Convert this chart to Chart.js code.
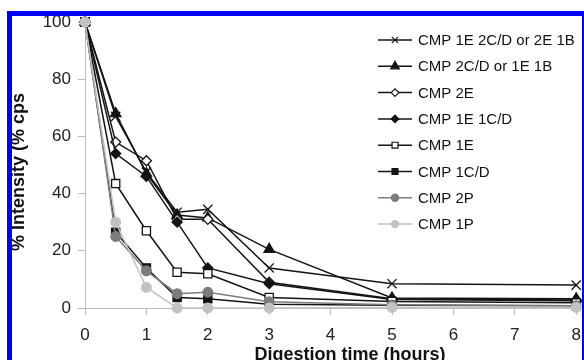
<!DOCTYPE html>
<html><head><meta charset="utf-8">
<script src="https://cdn.jsdelivr.net/npm/chart.js@4"></script>
<style>
html,body{margin:0;padding:0;background:#fff;overflow:hidden;width:584px;height:360px;}
#wrap{position:relative;width:584px;height:360px;overflow:hidden;background:#fff;}
canvas{position:absolute;left:0;top:0;}
#frame{position:absolute;left:7px;top:11px;width:577px;height:400px;box-sizing:border-box;border-left:5px solid #0000ff;border-top:5px solid #0000ff;border-right:2px solid #0000ff;pointer-events:none;}
</style></head><body>
<div id="wrap"><canvas id="c" width="584" height="380"></canvas><div id="frame"></div></div>
<script>
// ---- data ----
const times = [0, 0.5, 1, 1.5, 2, 3, 5, 8];
const seriesNames = ['CMP 1E 2C/D or 2E 1B', 'CMP 2C/D or 1E 1B', 'CMP 2E', 'CMP 1E 1C/D', 'CMP 1E', 'CMP 1C/D', 'CMP 2P', 'CMP 1P'];
const cmp1E2CD = [100, 67, 47.5, 33.5, 34.5, 14, 8.5, 8];
const cmp2CD   = [100, 68, 47, 32.5, 31.5, 20.5, 3.5, 3.2];
const cmp2E    = [100, 58, 51.5, 31, 31, 9, 3.2, 2.8];
const cmp1E1CD = [100, 54, 46, 30, 14, 8.5, 3, 2.5];
const cmp1E    = [100, 43.5, 27, 12.5, 12, 3.7, 2.3, 1.8];
const cmp1CD   = [100, 26.5, 14, 3.7, 3.2, 1.3, 1, 0.8];
const cmp2P    = [100, 25, 13, 5, 5.5, 2.2, 1.1, 0.8];
const cmp1P    = [100, 30, 7.2, 0, 0, 0, 0.2, 0.2];
const xTitle = 'Digestion time (hours)';
const yTitle = '% Intensity (% cps';
const xTickMin = 0, xTickMax = 8, xTickStep = 1;
const yTickMin = 0, yTickMax = 100, yTickStep = 20;

const FONT = '"Liberation Sans", Arial, Helvetica, sans-serif';
const BLACK = '#141414', GRAY = '#7c7c7c', LIGHT = '#c2c2c2';

const values = [cmp1E2CD, cmp2CD, cmp2E, cmp1E1CD, cmp1E, cmp1CD, cmp2P, cmp1P];
const styles = [
  {ps:'crossRot', r:6.5, fill:BLACK, stroke:BLACK, lr:4.5},
  {ps:'triangle', r:6, fill:BLACK, stroke:BLACK, lr:5},
  {ps:'rectRot', r:5, fill:'#fff', stroke:BLACK, lr:3.8},
  {ps:'rectRot', r:5, fill:BLACK, stroke:BLACK, lr:3.8},
  {ps:'rect', r:5.8, fill:'#fff', stroke:BLACK, lr:4.2},
  {ps:'rect', r:5.8, fill:BLACK, stroke:BLACK, lr:4.2},
  {ps:'circle', r:4.8, fill:GRAY, stroke:GRAY, lr:3.6},
  {ps:'circle', r:4.8, fill:LIGHT, stroke:LIGHT, lr:3.6}
];

const datasets = seriesNames.map((name, i) => ({
  label: name,
  data: times.map((t, j) => ({x: t, y: values[i][j]})),
  borderColor: styles[i].stroke,
  backgroundColor: styles[i].fill,
  borderWidth: 1.5,
  pointStyle: styles[i].ps,
  pointRadius: styles[i].r,
  pointBorderWidth: 1.3,
  pointBorderColor: styles[i].stroke,
  pointBackgroundColor: styles[i].fill,
  tension: 0,
  clip: false,
  order: seriesNames.length - 1 - i
}));

function drawMarker(ctx, ps, x, y, r, fill, stroke) {
  ctx.save();
  ctx.fillStyle = fill; ctx.strokeStyle = stroke; ctx.lineWidth = 1.2;
  if (Chart.helpers && Chart.helpers.drawPoint) {
    Chart.helpers.drawPoint(ctx, {pointStyle: ps, radius: r, rotation: 0, borderWidth: 1.2}, x, y);
  }
  ctx.restore();
}

const overlay = {
  id: 'overlay',
  afterDraw(chart) {
    const ctx = chart.ctx;
    ctx.save();
    // legend
    const rowY0 = 40, rowStep = 26.3;
    ctx.font = '15px ' + FONT;
    ctx.textAlign = 'left'; ctx.textBaseline = 'middle';
    seriesNames.forEach((name, i) => {
      const y = rowY0 + i * rowStep;
      const st = styles[i];
      ctx.strokeStyle = st.stroke; ctx.lineWidth = 1.5;
      ctx.beginPath(); ctx.moveTo(378, y); ctx.lineTo(412, y); ctx.stroke();
      drawMarker(ctx, st.ps, 395, y, st.lr, st.fill, st.stroke);
      ctx.fillStyle = '#111';
      ctx.fillText(name, 418, y + 1);
    });
    // axis titles
    ctx.font = 'bold 18px ' + FONT;
    ctx.fillStyle = '#111';
    ctx.textAlign = 'center'; ctx.textBaseline = 'middle';
    ctx.fillText(xTitle, 350, 355);
    ctx.translate(19, 172);
    ctx.rotate(-Math.PI / 2);
    ctx.fillText(yTitle, 0, 0);
    ctx.restore();
  }
};

new Chart(document.getElementById('c'), {
  type: 'line',
  data: { datasets },
  options: {
    responsive: false,
    animation: false,
    devicePixelRatio: 1,
    layout: { padding: { left: 0, top: 22, right: 2, bottom: 0 } },
    plugins: { legend: { display: false }, tooltip: { enabled: false } },
    scales: {
      x: {
        type: 'linear', min: xTickMin, max: xTickMax,
        ticks: { stepSize: xTickStep, color: '#222', font: { family: FONT, size: 17 }, padding: 10, maxRotation: 0 },
        grid: { drawOnChartArea: false, color: '#bcbcbc', tickLength: 7 },
        border: { color: '#bcbcbc', width: 1 },
        afterFit(s) { s.height = 72; s.paddingLeft = 0; s.paddingRight = 0; }
      },
      y: {
        type: 'linear', min: yTickMin, max: yTickMax,
        ticks: { stepSize: yTickStep, color: '#222', font: { family: FONT, size: 17 }, padding: 7 },
        grid: { drawOnChartArea: false, color: '#bcbcbc', tickLength: 7 },
        border: { color: '#bcbcbc', width: 1 },
        afterFit(s) { s.width = 85; s.paddingTop = 0; s.paddingBottom = 0; }
      }
    }
  },
  plugins: [overlay]
});
</script>
</body></html>
